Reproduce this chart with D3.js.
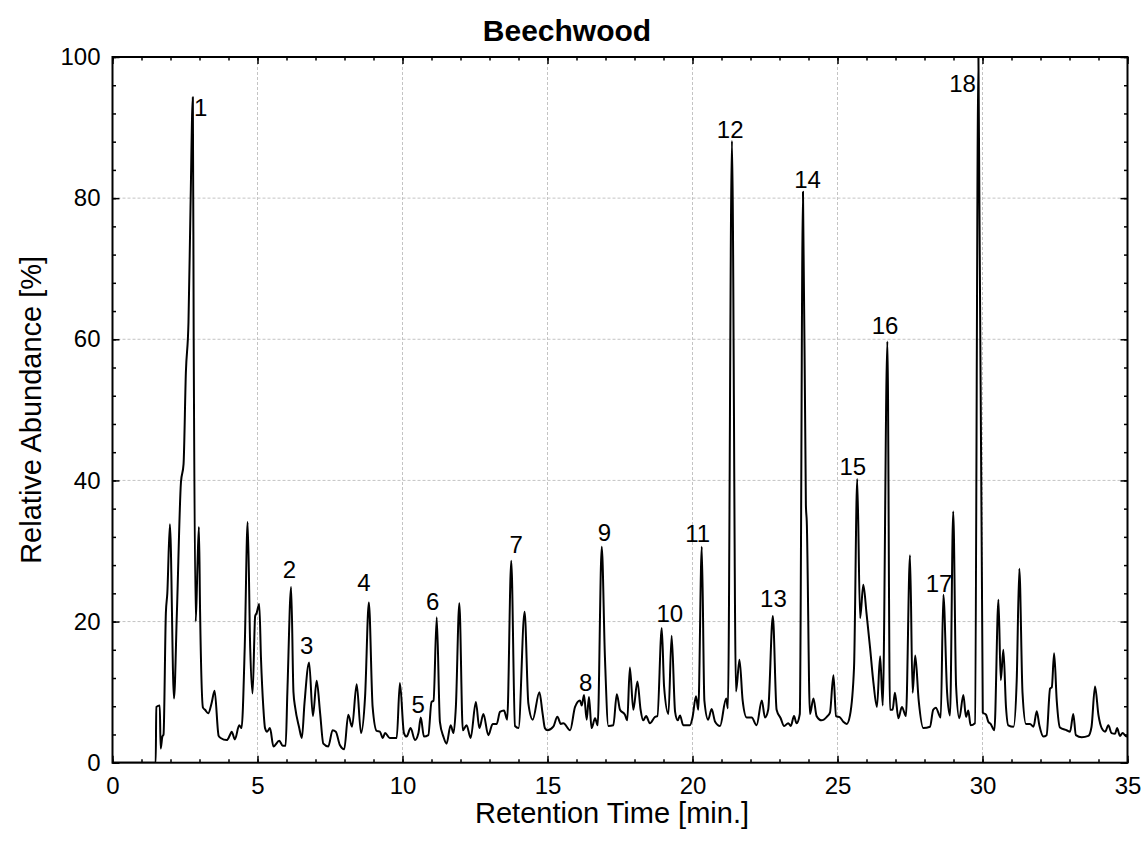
<!DOCTYPE html>
<html>
<head>
<meta charset="utf-8">
<script src="https://cdn.jsdelivr.net/npm/d3@7/dist/d3.min.js"></script>
<style>
  html, body { margin: 0; padding: 0; background: #fff; }
  svg { display: block; font-family: Arial, "Liberation Sans", sans-serif; }
</style>
</head>
<body>
<div id="chart"></div>
<script>
// chromatogram trace (time in min, abundance in %)
const retTime = [
  0, 1.49, 1.51, 1.63, 1.66, 1.72, 1.76, 1.84, 1.89, 1.98, 2.12, 2.22, 2.36, 2.45, 2.53, 2.62, 2.69, 2.77, 2.80, 2.87,
  2.93, 2.98, 3.02, 3.12, 3.19, 3.30, 3.42, 3.52, 3.66, 3.73, 3.94, 4.07, 4.11, 4.22, 4.37, 4.45, 4.56, 4.66, 4.75, 4.83,
  4.92, 4.97, 5.06, 5.12, 5.20, 5.26, 5.33, 5.43, 5.55, 5.75, 5.87, 5.97, 6.03, 6.16, 6.24, 6.30, 6.43, 6.53, 6.62, 6.78,
  6.91, 7.04, 7.16, 7.27, 7.44, 7.59, 7.70, 7.84, 7.99, 8.13, 8.26, 8.42, 8.57, 8.71, 8.84, 8.97, 9.11, 9.22, 9.32, 9.40,
  9.56, 9.80, 9.91, 10.05, 10.14, 10.28, 10.43, 10.55, 10.63, 10.74, 10.89, 11.00, 11.07, 11.18, 11.29, 11.41, 11.52, 11.66, 11.76, 11.84,
  11.96, 12.08, 12.21, 12.35, 12.53, 12.65, 12.79, 12.96, 13.11, 13.25, 13.36, 13.50, 13.61, 13.75, 13.88, 14.00, 14.21, 14.34, 14.49, 14.72,
  14.83, 14.91, 15.00, 15.20, 15.34, 15.46, 15.55, 15.78, 15.95, 16.12, 16.18, 16.26, 16.35, 16.43, 16.52, 16.64, 16.73, 16.87, 16.98, 17.10,
  17.27, 17.39, 17.50, 17.67, 17.75, 17.84, 17.96, 18.10, 18.21, 18.30, 18.40, 18.53, 18.71, 18.79, 18.94, 19.02, 19.17, 19.28, 19.40, 19.49,
  19.57, 19.68, 19.91, 20.00, 20.12, 20.20, 20.32, 20.41, 20.54, 20.66, 20.78, 20.95, 21.16, 21.22, 21.36, 21.50, 21.62, 21.73, 21.87, 22.04,
  22.21, 22.39, 22.50, 22.61, 22.77, 22.90, 23.04, 23.16, 23.30, 23.39, 23.50, 23.59, 23.70, 23.81, 23.91, 23.94, 24.05, 24.17, 24.28, 24.45,
  24.63, 24.74, 24.86, 24.95, 25.09, 25.20, 25.32, 25.43, 25.57, 25.68, 25.78, 25.89, 26.00, 26.12, 26.24, 26.36, 26.47, 26.56, 26.72, 26.81,
  26.90, 26.98, 27.10, 27.22, 27.36, 27.50, 27.59, 27.68, 27.80, 27.96, 28.19, 28.30, 28.39, 28.56, 28.65, 28.78, 28.88, 28.99, 29.09, 29.20,
  29.34, 29.43, 29.51, 29.59, 29.74, 29.86, 30.01, 30.12, 30.20, 30.28, 30.41, 30.55, 30.63, 30.72, 30.81, 30.89, 31.07, 31.18, 31.27, 31.38,
  31.50, 31.64, 31.76, 31.87, 31.96, 32.10, 32.21, 32.33, 32.39, 32.47, 32.56, 32.67, 32.90, 33.02, 33.13, 33.22, 33.42, 33.65, 33.76, 33.88,
  34.00, 34.11, 34.23, 34.34, 34.45, 34.57, 34.64, 34.74, 34.83, 34.97, 35.00
];
const abundance = [
  0, 0, 7.9, 8.1, 2.0, 3.7, 4.0, 21.2, 24.0, 33.8, 9.1, 21.2, 39.7, 42.3, 55.3, 62.4, 78.7, 94.3, 60.0, 20.0,
  28.0, 33.4, 21.4, 7.8, 7.5, 7.0, 8.5, 10.2, 3.8, 3.5, 3.2, 4.1, 4.4, 3.3, 5.3, 4.9, 16.4, 34.1, 16.0, 9.8,
  20.8, 21.2, 22.5, 14.8, 7.9, 4.9, 4.4, 4.9, 2.3, 3.1, 2.4, 2.4, 10.0, 24.9, 10.0, 7.8, 5.1, 3.5, 8.4, 14.2,
  6.6, 11.6, 7.0, 2.7, 2.3, 4.6, 4.4, 2.5, 1.9, 6.8, 5.1, 11.1, 4.2, 9.4, 22.7, 7.9, 4.5, 4.4, 3.5, 4.2,
  3.5, 3.5, 11.3, 4.2, 3.7, 4.9, 3.2, 4.2, 6.4, 3.7, 3.9, 8.6, 8.8, 20.6, 5.8, 3.7, 2.7, 5.3, 4.2, 7.9,
  22.6, 4.6, 5.3, 3.5, 8.6, 4.9, 6.9, 3.9, 5.5, 5.5, 7.2, 7.4, 6.1, 28.6, 5.2, 4.9, 21.4, 8.4, 6.1, 10.0,
  7.0, 4.9, 4.6, 5.1, 6.5, 5.5, 5.6, 4.6, 7.9, 8.8, 8.1, 9.6, 6.1, 9.3, 4.9, 6.3, 5.3, 30.6, 15.0, 5.2,
  5.3, 9.7, 7.5, 6.8, 6.0, 13.5, 7.5, 11.5, 7.5, 6.0, 6.6, 5.6, 6.5, 6.6, 19.1, 10.8, 6.9, 18.0, 7.2, 6.0,
  6.7, 5.3, 5.3, 6.4, 9.4, 7.5, 30.6, 8.8, 6.1, 7.6, 5.8, 5.2, 9.1, 7.7, 88.1, 10.1, 14.6, 8.8, 6.4, 6.4,
  5.3, 8.8, 6.4, 7.5, 20.8, 7.5, 6.3, 5.2, 5.6, 5.2, 6.6, 5.6, 6.9, 80.9, 36.5, 34.2, 6.9, 9.1, 6.6, 6.0,
  6.5, 7.1, 12.4, 6.6, 6.4, 5.8, 5.5, 6.7, 13.5, 40.2, 20.5, 25.2, 21.2, 16.4, 11.3, 7.9, 15.1, 8.1, 59.7, 7.5,
  7.5, 9.9, 6.3, 7.9, 6.6, 29.4, 9.9, 15.2, 8.8, 4.9, 5.1, 7.5, 7.8, 6.4, 23.8, 9.9, 6.7, 35.6, 10.8, 6.3,
  9.6, 6.5, 7.4, 5.3, 5.6, 100, 7.1, 6.8, 5.8, 5.5, 4.6, 23.1, 11.7, 16.0, 7.9, 5.3, 5.1, 11.7, 27.5, 9.9,
  5.5, 5.5, 5.1, 7.3, 5.3, 3.7, 3.9, 10.5, 10.7, 15.5, 8.8, 5.0, 4.6, 4.4, 6.9, 3.9, 3.6, 3.8, 5.1, 10.8,
  6.7, 4.9, 4.4, 5.3, 4.2, 4.1, 4.9, 3.8, 4.2, 3.7, 3.8
];

// peak numbers and where their text sits (data units)
const peakLabels = ["1","2","3","4","5","6","7","8","9","10","11","12","13","14","15","16","17","18"];
const labelTime  = [3.04, 6.10, 6.70, 8.67, 10.54, 11.04, 13.92, 16.32, 16.96, 19.22, 20.18, 21.30, 22.79, 23.97, 25.53, 26.64, 28.50, 29.31];
const labelAbund = [92.8, 27.4, 16.6, 25.6, 8.3, 22.8, 31.0, 11.4, 32.7, 21.2, 32.5, 89.8, 23.3, 82.7, 42.0, 62.0, 25.4, 96.2];

const xMajor = [0, 5, 10, 15, 20, 25, 30, 35];
const yMajor = [0, 20, 40, 60, 80, 100];

const W = 1146, H = 848;
const margin = {top: 57, right: 18.5, bottom: 85.3, left: 112.5};
const w = W - margin.left - margin.right;
const h = H - margin.top - margin.bottom;
const tickFont = 24, labelFont = 24, titleFont = 29;

const svg = d3.select("#chart").append("svg")
    .attr("width", W).attr("height", H);
svg.append("rect").attr("width", W).attr("height", H).attr("fill", "#fff");

const g = svg.append("g").attr("transform", `translate(${margin.left},${margin.top})`);

const x = d3.scaleLinear().domain([0, 35]).range([0, w]);
const y = d3.scaleLinear().domain([0, 100]).range([h, 0]);

// grid
g.append("g").selectAll("line").data(xMajor.slice(1, -1)).join("line")
    .attr("x1", d => x(d)).attr("x2", d => x(d)).attr("y1", 0).attr("y2", h)
    .attr("stroke", "#c4c4c4").attr("stroke-width", 1).attr("stroke-dasharray", "3,2");
g.append("g").selectAll("line").data(yMajor.slice(1, -1)).join("line")
    .attr("y1", d => y(d)).attr("y2", d => y(d)).attr("x1", 0).attr("x2", w)
    .attr("stroke", "#c4c4c4").attr("stroke-width", 1).attr("stroke-dasharray", "3,2");

// trace
g.append("clipPath").attr("id", "plotclip")
  .append("rect").attr("x", 0).attr("y", -1).attr("width", w).attr("height", h + 1);

const pts = retTime.map((t, i) => [t, abundance[i]]);
g.append("path").datum(pts)
    .attr("clip-path", "url(#plotclip)")
    .attr("fill", "none").attr("stroke", "#000").attr("stroke-width", 2)
    .attr("stroke-linejoin", "round")
    .attr("d", d3.line().x(d => x(d[0])).y(d => y(d[1])).curve(d3.curveMonotoneX));

// peak numbers
g.append("g").selectAll("text").data(peakLabels).join("text")
    .attr("x", (d, i) => x(labelTime[i]))
    .attr("y", (d, i) => y(labelAbund[i]))
    .attr("dy", "0.36em")
    .attr("text-anchor", "middle")
    .attr("font-size", labelFont)
    .text(d => d);

// axes: inward ticks on all four sides
const minorX = d3.range(0, 36, 1), minorY = d3.range(0, 101, 4);
function styleAxis(sel) {
  sel.select(".domain").remove();
  sel.selectAll(".tick line").attr("stroke", "#000").attr("stroke-width", 1.5);
}
g.append("g").attr("transform", `translate(0,${h})`)
    .call(d3.axisBottom(x).tickValues(minorX).tickSize(-3.5).tickFormat(""))
    .call(styleAxis);
g.append("g").attr("transform", `translate(0,${h})`)
    .call(d3.axisBottom(x).tickValues(xMajor).tickSize(-7).tickPadding(14).tickFormat(d3.format("d")))
    .call(styleAxis)
    .selectAll("text").attr("font-size", tickFont).attr("fill", "#000").attr("font-family", "Arial, 'Liberation Sans', sans-serif");
g.append("g")
    .call(d3.axisTop(x).tickValues(minorX).tickSize(-3.5).tickFormat(""))
    .call(styleAxis);
g.append("g")
    .call(d3.axisTop(x).tickValues(xMajor).tickSize(-7).tickFormat(""))
    .call(styleAxis);
g.append("g")
    .call(d3.axisLeft(y).tickValues(minorY).tickSize(-3.5).tickFormat(""))
    .call(styleAxis);
g.append("g")
    .call(d3.axisLeft(y).tickValues(yMajor).tickSize(-7).tickPadding(12).tickFormat(d3.format("d")))
    .call(styleAxis)
    .selectAll("text").attr("font-size", tickFont).attr("fill", "#000").attr("font-family", "Arial, 'Liberation Sans', sans-serif");
g.append("g").attr("transform", `translate(${w},0)`)
    .call(d3.axisRight(y).tickValues(minorY).tickSize(-3.5).tickFormat(""))
    .call(styleAxis);
g.append("g").attr("transform", `translate(${w},0)`)
    .call(d3.axisRight(y).tickValues(yMajor).tickSize(-7).tickFormat(""))
    .call(styleAxis);

// frame
g.append("rect").attr("width", w).attr("height", h)
    .attr("fill", "none").attr("stroke", "#000").attr("stroke-width", 2);

// titles
svg.append("text").attr("x", 567).attr("y", 41)
    .attr("text-anchor", "middle").attr("font-size", 30).attr("font-weight", "bold")
    .text("Beechwood");
svg.append("text").attr("x", 612).attr("y", 823)
    .attr("text-anchor", "middle").attr("font-size", titleFont)
    .text("Retention Time [min.]");
svg.append("text")
    .attr("transform", `translate(41,${margin.top + h / 2}) rotate(-90)`)
    .attr("text-anchor", "middle").attr("font-size", titleFont)
    .text("Relative Abundance [%]");
</script>
</body>
</html>
